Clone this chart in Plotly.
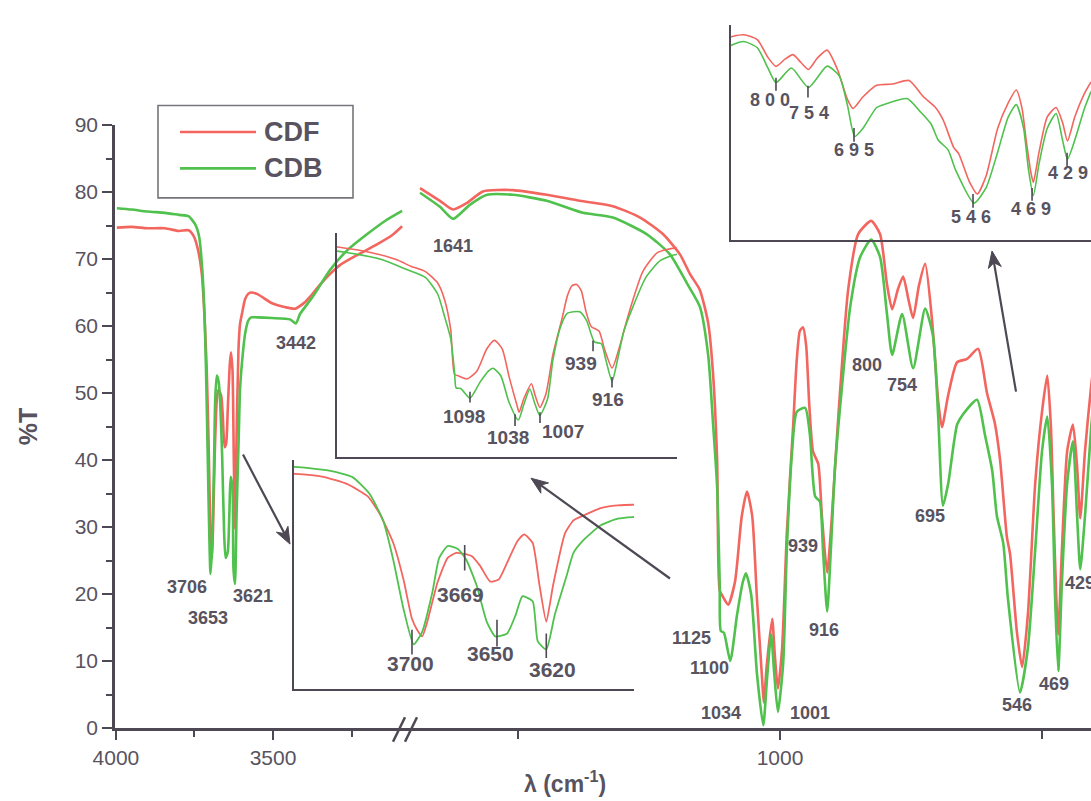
import math
import plotly.graph_objects as go

# ---------------- data (wavenumber cm-1, %T) ----------------
# high-wavenumber segment (left of axis break)
wn_hi_cdf = [3997, 3950, 3900, 3844, 3800, 3769, 3752, 3738, 3726, 3719, 3711, 3705, 3700, 3697, 3694,
             3691, 3685, 3679, 3674, 3665, 3660, 3654, 3649, 3644, 3638, 3634, 3629, 3625, 3621, 3617,
             3610, 3605, 3599, 3589, 3579, 3570, 3551, 3503, 3460, 3430, 3400, 3382, 3350, 3318, 3287,
             3232, 3169, 3120, 3089]
t_hi_cdf = [74.7, 74.8, 74.6, 74.6, 74.2, 74.3, 73.4, 71.2, 67.5, 62.3, 53.5, 42.5, 30.7, 27.4, 25.4,
            29.8, 41.6, 49.0, 50.5, 49.6, 46.7, 41.9, 42.5, 47.6, 54.0, 56.1, 53.5, 40.8, 29.8, 40.8,
            56.4, 60.3, 61.8, 64.0, 64.8, 65.0, 64.8, 63.4, 62.8, 62.6, 63.5, 64.4, 66.2, 67.8, 69.1,
            70.6, 72.2, 73.6, 74.9]
wn_hi_cdb = [3997, 3950, 3900, 3844, 3800, 3769, 3748, 3735, 3725, 3717, 3711, 3705, 3699, 3694, 3688,
             3684, 3679, 3673, 3668, 3662, 3656, 3651, 3644, 3639, 3635, 3629, 3626, 3621, 3616, 3609,
             3605, 3599, 3589, 3579, 3570, 3550, 3503, 3446, 3427, 3414, 3373, 3318, 3264, 3201, 3140,
             3089]
t_hi_cdb = [77.6, 77.4, 77.1, 76.9, 76.6, 76.4, 75.2, 73.3, 68.3, 60.3, 48.4, 33.7, 23.0, 26.8, 38.7,
            49.0, 52.6, 51.7, 48.4, 40.8, 29.8, 25.4, 26.3, 31.9, 37.5, 36.0, 23.9, 21.5, 31.9, 43.7,
            50.5, 54.4, 58.8, 60.8, 61.3, 61.3, 61.2, 61.0, 60.4, 61.8, 64.4, 68.4, 71.3, 73.7, 75.8,
            77.2]

# low-wavenumber segment (right of axis break)
wn_lo_cdf = [1687, 1649, 1624, 1597, 1567, 1510, 1445, 1382, 1319, 1267, 1223, 1191, 1172, 1153, 1137,
             1128, 1120, 1115, 1109, 1099, 1086, 1073, 1063, 1053, 1044, 1034, 1031, 1025, 1015, 1010,
             1004, 996, 987, 975, 968, 962, 956, 950, 944, 937, 927, 920, 910, 901, 891,
             885, 870, 851, 826, 809, 796, 786, 775, 765, 755, 746, 735, 723, 710, 698,
             691, 679, 662, 643, 622, 605, 590, 580, 567, 561, 548, 538, 527, 513, 500,
             490, 483, 478, 472, 469, 462, 452, 441, 433, 427, 418, 406, 398]
t_lo_cdf = [80.6, 78.7, 77.4, 78.4, 80.1, 80.3, 79.6, 78.7, 77.9, 76.2, 73.7, 70.7, 67.8, 65.4, 60.4,
            53.1, 40.0, 20.5, 19.6, 18.4, 21.8, 31.6, 35.3, 31.6, 19.3, 7.1, 3.8, 9.6, 16.3, 11.0,
            5.9, 11.9, 29.1, 45.0, 55.0, 59.3, 59.8, 57.0, 48.0, 41.3, 39.4, 31.6, 23.2, 31.6, 43.8,
            50.7, 65.4, 73.7, 75.7, 73.7, 66.3, 62.5, 65.5, 67.4, 64.0, 61.2, 66.0, 69.3, 61.0, 48.7,
            44.9, 49.7, 54.6, 55.1, 56.6, 50.0, 45.5, 40.0, 28.5, 26.0, 14.4, 9.1, 16.9, 36.5, 47.2,
            52.6, 45.0, 32.0, 18.0, 14.0, 26.6, 41.3, 45.3, 39.0, 31.3, 41.3, 51.2, 56.0]
wn_lo_cdb = [1687, 1649, 1624, 1592, 1559, 1510, 1445, 1376, 1319, 1254, 1210, 1177, 1153, 1137, 1128,
             1120, 1115, 1113, 1107, 1095, 1082, 1071, 1065, 1055, 1044, 1032, 1025, 1017, 1011, 1004,
             994, 987, 977, 968, 952, 943, 933, 924, 918, 910, 903, 895, 885, 866, 847,
             826, 809, 796, 786, 767, 746, 723, 708, 698, 689, 679, 662, 651, 624, 609,
             595, 586, 574, 565, 542, 527, 513, 500, 490, 481, 475, 469, 462, 452, 441,
             433, 427, 418, 406, 398]
t_lo_cdb = [79.9, 77.8, 76.0, 78.1, 79.6, 79.6, 78.7, 76.9, 76.2, 73.7, 70.7, 66.3, 62.9, 55.6, 45.7,
            36.0, 21.3, 14.5, 14.2, 10.0, 16.9, 21.8, 23.1, 19.9, 8.1, 0.4, 7.1, 14.0, 8.1, 2.4,
            9.6, 26.6, 41.3, 47.2, 47.8, 43.8, 34.6, 33.8, 26.6, 17.4, 26.6, 39.0, 48.2, 62.9, 70.3,
            72.9, 70.3, 61.9, 55.7, 61.8, 53.7, 62.6, 58.5, 46.3, 33.2, 36.5, 45.3, 46.8, 49.0, 43.8,
            38.4, 31.6, 27.6, 19.3, 5.3, 11.9, 26.6, 41.3, 46.5, 36.5, 19.3, 8.5, 21.8, 36.5, 42.8,
            31.6, 23.7, 31.6, 45.0, 52.0]

series_names = ["CDF", "CDB"]
series_colors = ["#f2665f", "#4fc14c"]

y_tick_vals = [0, 10, 20, 30, 40, 50, 60, 70, 80, 90]
x_hi_tick_vals = [4000, 3500]
x_hi_tick_text = ["4000", "3500"]
x_hi_minor_vals = [3750, 3250]
x_lo_tick_vals = [1000]
x_lo_tick_text = ["1000"]
x_lo_minor_vals = [1500, 500]

# peak labels: (text, wavenumber-position, %T-position)
main_hi_labels = [("3706", 3774, 21.0), ("3653", 3707, 16.4), ("3621", 3564, 19.7), ("3442", 3427, 57.4)]
main_lo_labels = [("1641", 1624, 71.9), ("1125", 1168, 13.5), ("1100", 1134, 9.0), ("1034", 1113, 2.2),
                  ("1001", 943, 2.2), ("939", 956, 27.2), ("916", 916, 14.7), ("800", 834, 54.2),
                  ("754", 767, 51.2), ("695", 714, 31.6), ("546", 548, 3.4), ("469", 477, 6.6),
                  ("429", 427, 21.7)]
insetA_labels = [("3700", 3700.6, 17.4), ("3669", 3671.2, 38.1), ("3650", 3654.1, 20.3), ("3620", 3617.1, 15.6)]
insetA_ticks = [(3700, 27.4, 20.0), (3669, 52.9, 45.2), (3650, 30.4, 22.4), (3621, 26.3, 18.9)]
insetB_labels = [("1098", 1102.7, 2.1), ("1038", 1045.4, -7.4), ("1007", 973.9, -4.8), ("939", 950.4, 25.3),
                 ("916", 915.3, 9.4)]
insetB_ticks = [(1094.9, 12.8, 8.1), (1036.3, 2.9, -2.2), (1003.8, 3.8, -0.95), (934.8, 35.2, 30.5),
                (910.1, 19.3, 14.6)]
insetC_labels = [("800", 793.4, 48.6), ("754", 745.3, 42.9), ("695", 689.9, 27.6), ("546", 545.8, -0.3),
                 ("469", 471.9, 3.0), ("429", 426.3, 17.8)]
insetC_ticks = [(786, 57.7, 52.3), (746.6, 54.4, 49.5), (689.9, 36.7, 31.0), (543.3, 9.1, 3.4),
                (470.6, 11.6, 6.3), (427.5, 26.4, 20.7)]

# ---------------- layout helpers (pixel -> paper) ----------------
W, H = 1091, 801
ML, MR, MT, MB = 115, 0, 0, 73
PW, PH = W - ML - MR, H - MT - MB


def fx(px):
    return (px - ML) / PW


def fy(py):
    return (MT + PH - py) / PH


FONT = "Liberation Sans, Arial, Helvetica, sans-serif"
TXT = "#58535e"
AX = "#4d4853"

fig = go.Figure()

hi = [(wn_hi_cdf, t_hi_cdf), (wn_hi_cdb, t_hi_cdb)]
lo = [(wn_lo_cdf, t_lo_cdf), (wn_lo_cdb, t_lo_cdb)]

for i, name in enumerate(series_names):
    c = series_colors[i]
    fig.add_trace(go.Scatter(x=hi[i][0], y=hi[i][1], xaxis="x", yaxis="y", mode="lines", name=name,
                             line=dict(color=c, width=2.6, shape="spline", smoothing=0.6), showlegend=False))
    fig.add_trace(go.Scatter(x=lo[i][0], y=lo[i][1], xaxis="x2", yaxis="y", mode="lines", name=name,
                             line=dict(color=c, width=2.6, shape="spline", smoothing=0.6), showlegend=False))
    # insets (zoomed views of the same spectra)
    fig.add_trace(go.Scatter(x=hi[i][0], y=hi[i][1], xaxis="x3", yaxis="y3", mode="lines", name=name,
                             line=dict(color=c, width=1.8, shape="spline", smoothing=0.5), showlegend=False))
    fig.add_trace(go.Scatter(x=lo[i][0], y=lo[i][1], xaxis="x4", yaxis="y4", mode="lines", name=name,
                             line=dict(color=c, width=1.6, shape="spline", smoothing=0.6), showlegend=False))
    fig.add_trace(go.Scatter(x=lo[i][0], y=lo[i][1], xaxis="x5", yaxis="y5", mode="lines", name=name,
                             line=dict(color=c, width=1.6, shape="spline", smoothing=0.6), showlegend=False))

tickfont = dict(family=FONT, size=21, color=TXT)
main_axis = dict(showline=True, linecolor=AX, linewidth=2.5, ticks="outside", tickcolor=AX,
                 tickwidth=2, showgrid=False, zeroline=False, tickfont=tickfont)
inset_axis = dict(showline=True, linecolor=AX, linewidth=1.5, ticks="", showticklabels=False,
                  showgrid=False, zeroline=False)

fig.update_layout(
    width=W, height=H,
    margin=dict(l=ML, r=MR, t=MT, b=MB, pad=0),
    paper_bgcolor="white", plot_bgcolor="rgba(0,0,0,0)",
    showlegend=False,
    xaxis=dict(main_axis, domain=[0, fx(404)], range=[4003, 3083], anchor="y",
               tickvals=x_hi_tick_vals, ticktext=x_hi_tick_text, ticklen=9,
               minor=dict(tickvals=x_hi_minor_vals, ticklen=6, ticks="outside", tickcolor=AX, tickwidth=2)),
    xaxis2=dict(main_axis, domain=[fx(404), 1], range=[1717.6, 406.5], anchor="y",
                tickvals=x_lo_tick_vals, ticktext=x_lo_tick_text, ticklen=9,
                minor=dict(tickvals=x_lo_minor_vals, ticklen=8, ticks="outside", tickcolor=AX, tickwidth=2)),
    yaxis=dict(main_axis, domain=[0, fy(115)], range=[0, 90], anchor="x",
               tickvals=y_tick_vals, ticklen=10,
               minor=dict(dtick=5, ticklen=6, ticks="outside", tickcolor=AX, tickwidth=2),
               title=dict(text="<b>%T</b>", font=dict(family=FONT, size=25, color=TXT), standoff=30)),
    xaxis3=dict(inset_axis, domain=[fx(294), fx(634)], range=[3769.4, 3569.4], anchor="y3"),
    yaxis3=dict(inset_axis, domain=[fy(688), fy(455)], range=[9.7, 78.6], anchor="x3"),
    xaxis4=dict(inset_axis, domain=[fx(337), fx(677)], range=[1268, 825.5], anchor="y4"),
    yaxis4=dict(inset_axis, domain=[fy(452), fy(225)], range=[-15.6, 82.2], anchor="x4"),
    xaxis5=dict(inset_axis, domain=[fx(731), 1], range=[841.4, 398], anchor="y5"),
    yaxis5=dict(inset_axis, domain=[fy(232), fy(13)], range=[-10.2, 79.9], anchor="x5"),
)

ann = []
shapes = []


def lab(text, x, y, xr, yr, size):
    ann.append(dict(text=text, x=x, y=y, xref=xr, yref=yr, showarrow=False,
                    font=dict(family=FONT, size=size, color=TXT, weight="bold"),
                    xanchor="center", yanchor="middle"))


for t, x, y in main_hi_labels:
    lab(t, x, y, "x", "y", 18)
for t, x, y in main_lo_labels:
    lab(t, x, y, "x2", "y", 18)
for t, x, y in insetA_labels:
    lab(t, x, y, "x3", "y3", 21)
for t, x, y in insetB_labels:
    lab(t, x, y, "x4", "y4", 19)
for t, x, y in insetC_labels:
    lab(" ".join(t), x, y, "x5", "y5", 18)

for ticks, xr, yr in [(insetA_ticks, "x3", "y3"), (insetB_ticks, "x4", "y4"), (insetC_ticks, "x5", "y5")]:
    for x, y0, y1 in ticks:
        shapes.append(dict(type="line", x0=x, x1=x, y0=y0, y1=y1, xref=xr, yref=yr,
                           line=dict(color=AX, width=1.6)))

# arrows drawn as a line plus a filled head (tip, tail in pixels)
for (tx, ty), (sx, sy) in [((290, 541), (243, 450)), ((531, 474), (670, 576)), ((992, 243), (1016, 386))]:
    L = math.hypot(tx - sx, ty - sy)
    dx, dy = (tx - sx) / L, (ty - sy) / L
    nx, ny = -dy, dx
    hl, hw, notch = 17, 6.5, 12
    bx, by = tx - dx * notch, ty - dy * notch
    shapes.append(dict(type="line", xref="paper", yref="paper", x0=fx(sx), y0=fy(sy), x1=fx(bx), y1=fy(by),
                       line=dict(color=AX, width=2.2)))
    pts = [(tx, ty), (tx - dx * hl + nx * hw, ty - dy * hl + ny * hw), (bx, by),
           (tx - dx * hl - nx * hw, ty - dy * hl - ny * hw)]
    path = "M " + " L ".join(f"{fx(px):.5f},{fy(py):.5f}" for px, py in pts) + " Z"
    shapes.append(dict(type="path", xref="paper", yref="paper", path=path, fillcolor=AX,
                       line=dict(color=AX, width=1)))

# x-axis title
ann.append(dict(text="<b>λ (cm<sup>-1</sup>)</b>", x=fx(565), y=fy(783), xref="paper", yref="paper",
                showarrow=False, font=dict(family=FONT, size=23, color=TXT),
                xanchor="center", yanchor="middle"))

# axis break marks
for ddx in (0, 12):
    shapes.append(dict(type="line", xref="paper", yref="paper", x0=fx(393 + ddx), y0=fy(742),
                       x1=fx(405 + ddx), y1=fy(717), line=dict(color=AX, width=2.5)))

# legend box
shapes.append(dict(type="rect", xref="paper", yref="paper", x0=fx(158), x1=fx(353), y0=fy(189), y1=fy(95),
                   line=dict(color="#77737b", width=1.6), fillcolor="rgba(0,0,0,0)"))
for i, name in enumerate(series_names):
    yy = 122 + 37 * i
    shapes.append(dict(type="line", xref="paper", yref="paper", x0=fx(180), x1=fx(256), y0=fy(yy), y1=fy(yy),
                       line=dict(color=series_colors[i], width=2.6)))
    ann.append(dict(text=name, x=fx(262), y=fy(yy), xref="paper", yref="paper", showarrow=False,
                    font=dict(family=FONT, size=27, color=TXT, weight="bold"),
                    xanchor="left", yanchor="middle"))

fig.update_layout(annotations=ann, shapes=shapes)
fig.write_html("out.html", config={"displayModeBar": False},
               post_script="document.body.style.margin='0';document.body.style.overflow='hidden';")
